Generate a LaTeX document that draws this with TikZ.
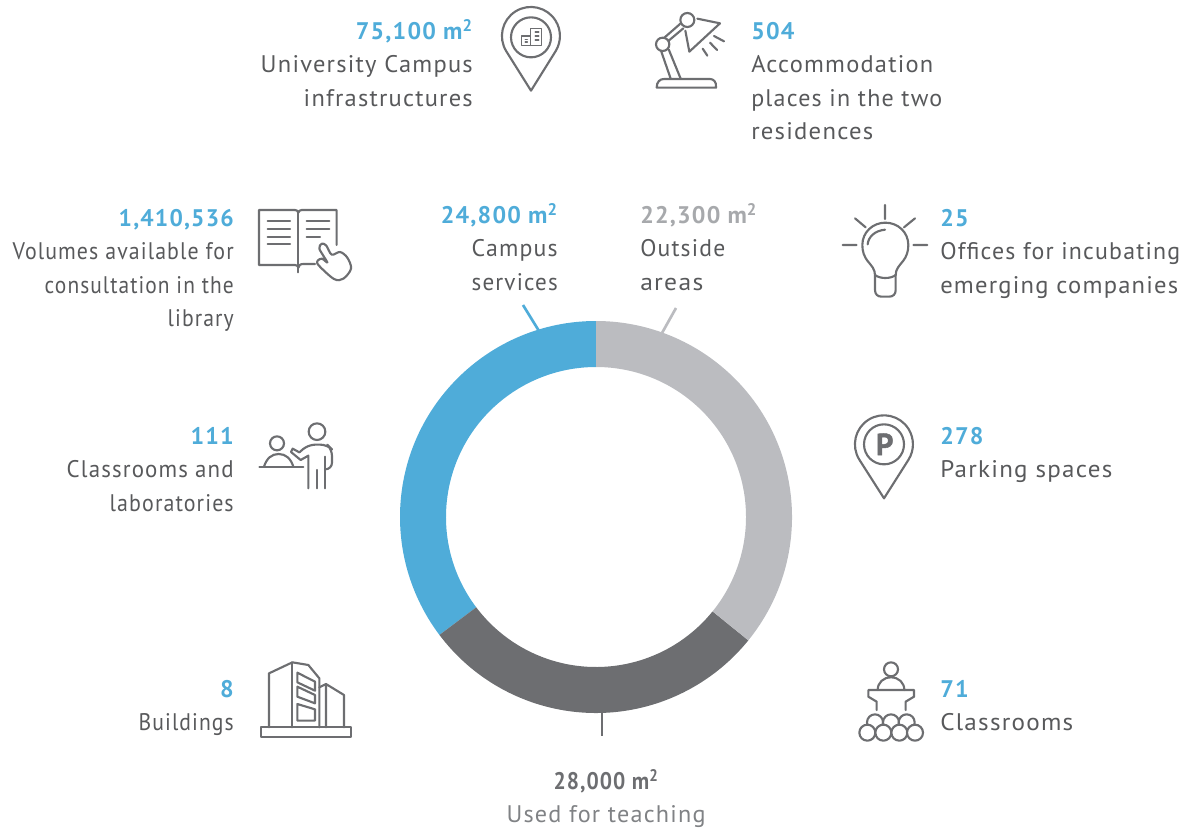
\documentclass[tikz,border=0pt]{standalone}
\usepackage{graphicx}
\usepackage{fontspec}
\setmainfont[LetterSpace=5.0]{PT Sans}
\newfontfamily\pfont[BoldFeatures={FakeBold=1.5}]{PT Sans}
\definecolor{cblue}{HTML}{4FACD9}
\definecolor{cgray}{HTML}{BBBCC0}
\definecolor{cdark}{HTML}{6D6E71}
\definecolor{ctext}{HTML}{58595B}
\definecolor{cnum}{HTML}{A7A9AC}
\definecolor{cuse}{HTML}{808285}
\newcommand{\msq}{m\smash{\textsuperscript{2}}}
% a line of text set to a width given in reference pixels
\newcommand{\lw}[2]{\resizebox{#1\dimexpr 0.75pt\relax}{\height}{#2}}
\tikzset{
  lab/.style={inner sep=0pt,text=ctext,font=\fontsize{18}{25.1}\selectfont},
  labr/.style={lab,align=right,anchor=north east},
  labl/.style={lab,align=left,anchor=north west},
  labc/.style={lab,align=center,anchor=north},
  icon/.style={draw=cdark,line width=1.6pt,line join=round,line cap=round},
  thin icon/.style={icon,line width=1.2pt},
  leader/.style={line width=2pt},
  crop/.style={x=.25pt,y=-.25pt},
}
\newcommand{\nb}[1]{{\bfseries\color{cblue}#1}}
\begin{document}
\begin{tikzpicture}[x=.75pt,y=-.75pt]
\useasboundingbox (0,0) rectangle (1187,831);
% donut
\coordinate (c) at (596,517);
\begin{scope}[shift={(c)}]
\fill[cblue] (90:147pt) arc[start angle=90,end angle=217,radius=147pt] -- (217:112.5pt) arc[start angle=217,end angle=90,radius=112.5pt] -- cycle;
\fill[cdark] (217:147pt) arc[start angle=217,end angle=321,radius=147pt] -- (321:112.5pt) arc[start angle=321,end angle=217,radius=112.5pt] -- cycle;
\fill[cgray] (321:147pt) arc[start angle=321,end angle=450,radius=147pt] -- (450:112.5pt) arc[start angle=450,end angle=321,radius=112.5pt] -- cycle;
\end{scope}
% leaders
\coordinate (la) at (523,305); \coordinate (lb) at (539,331);
\coordinate (lc) at (676,308); \coordinate (ld) at (662,333);
\coordinate (le) at (602,713); \coordinate (lf) at (602,736);
\draw[leader,cblue] (la) -- (lb);
\draw[leader,cgray] (lc) -- (ld);
\draw[leader,cdark] (le) -- (lf);
% labels
\node[labr] (t1) at (473,22) {\nb{75,100 \msq}\\\lw{212}{University Campus}\\\lw{169}{infrastructures}};
\node[labl] (t2) at (751,22) {\nb{504}\\\lw{182}{Accommodation}\\\lw{191}{places in the two}\\\lw{122}{residences}};
\node[labr] (t3) at (234,209) {\nb{\lw{115}{1,410,536}}\\\lw{221}{Volumes available for}\\\lw{189}{consultation in the}\\\lw{66}{library}};
\node[labr] (t4) at (558,206) {\nb{24,800 \msq}\\\lw{86}{Campus}\\\lw{86}{services}};
\node[labl] (t5) at (640,206) {{\bfseries\color{cnum}22,300 \msq}\\\lw{85}{Outside}\\\lw{63}{areas}};
\node[labl] (t6) at (940,209) {\nb{25}\\\lw{240}{Offices for incubating}\\\lw{238}{emerging companies}};
\node[labr] (t7) at (234,427) {\nb{111}\\\lw{167}{Classrooms and}\\\lw{124}{laboratories}};
\node[labl] (t8) at (940,427) {\nb{278}\\\lw{172}{Parking spaces}};
\node[labr] (t9) at (234,680) {\nb{8}\\\lw{95}{Buildings}};
\node[labl] (t10) at (940,680) {\nb{71}\\\lw{133}{Classrooms}};
\node[labc] (t11) at (606,772) {{\bfseries\color{cdark}\lw{105}{28,000 \msq}}\\{\color{cuse}\lw{199}{Used for teaching}}};
% pin building
\begin{scope}[shift={(480,0)},crop]
\draw[icon] (153,272) -- (79,154) arc[start angle=148,end angle=392,radius=87] -- cycle;
\draw[icon] (153,112) circle[radius=60];
\draw[thin icon] (124,108) rectangle (152,136) (152,136) -- (152,86) -- (184,86) -- (184,136) -- (152,136);
\draw[thin icon] (136,118) -- (142,118) (136,126) -- (142,126) (166,96) -- (176,96) (166,108) -- (176,108) (166,120) -- (176,120);
% lamp
\draw[icon] (530,263) -- (708,263) .. controls (710,245) and (700,237) .. (690,237) -- (552,237) .. controls (540,237) and (530,245) .. (530,263);
\draw[icon] (548,133) circle[radius=20];
\draw[icon] (622,60) circle[radius=21];
\draw[icon] (543,152) -- (572,236) (566,148) -- (602,236);
\draw[icon] (553,113) -- (600,72) (566,122) -- (610,85);
\draw[icon] (652,56) -- (720,70) -- (628,155) -- (616,92);
\draw[icon] (668,146) -- (682,167) (690,128) -- (711,150) (702,108) -- (732,124);
\end{scope}
% book
\begin{scope}[shift={(240,190)},crop]
\draw[icon] (165,60) -- (57,60) -- (57,225) -- (165,225) .. controls (170,225) and (175,228) .. (175,233) .. controls (177,226) and (180,222) .. (190,222) -- (225,222);
\draw[icon] (290,165) -- (290,60) -- (185,60) .. controls (180,60) and (176,63) .. (175,68) .. controls (174,63) and (170,60) .. (165,60);
\draw[icon] (175,68) -- (175,247);
\draw[icon] (83,92) -- (150,92) (83,116) -- (150,116) (83,140) -- (150,140) (83,163) -- (150,163);
\draw[icon] (200,92) -- (268,92) (200,116) -- (268,116) (200,140) -- (240,140);
\draw[icon] plot[smooth cycle,tension=.55] coordinates {(262,217) (238,176) (246,161) (259,167) (275,194) (300,186) (322,203) (333,236) (310,266) (282,267) (236,226) (233,212) (246,206)};
\end{scope}
% teacher
\begin{scope}[shift={(240,410)},crop]
\draw[icon] (111,100) circle[radius=21];
\draw[icon] (72,170) .. controls (80,145) and (95,132) .. (116,132) .. controls (137,132) and (152,145) .. (160,170);
\draw[icon] (58,172) -- (190,172);
\draw[icon] (231,65) circle[radius=25];
\draw[icon,rounded corners=5pt] (178,127) -- (205,104) -- (262,104) -- (276,118) -- (276,178) -- (255,178);
\draw[icon] (178,127) -- (158,116) -- (153,126) -- (182,150) -- (205,137) -- (205,235);
\draw[icon] (255,140) -- (255,235) (230,180) -- (230,235);
\end{scope}
% building
\begin{scope}[shift={(240,650)},crop]
\draw[icon] (63,232) rectangle (332,260);
\draw[icon] (87,232) -- (87,70) -- (157,37) -- (205,45) -- (238,85) -- (238,232);
\draw[icon] (157,37) -- (157,232);
\draw[icon] (238,112) -- (258,102) -- (312,135) -- (312,232) (258,102) -- (258,232);
\draw[icon] (172,68) -- (225,95) -- (225,122) -- (172,97) -- cycle;
\draw[icon] (172,110) -- (225,135) -- (225,160) -- (172,140) -- cycle;
\draw[icon] (172,162) -- (225,178) -- (225,212) -- (172,212) -- cycle;
\end{scope}
% bulb
\begin{scope}[shift={(830,195)},crop]
\draw[icon] (165,30) -- (165,72) (38,150) -- (80,150) (250,150) -- (292,150) (75,70) -- (107,97) (255,70) -- (222,97);
\draw[icon] (135,240) .. controls (135,222) and (124,212) .. (112,197) .. controls (103,185) and (97,170) .. (97,150) .. controls (97,112) and (128,83) .. (166,83) .. controls (204,83) and (235,112) .. (235,150) .. controls (235,170) and (229,185) .. (220,197) .. controls (208,212) and (197,222) .. (197,240);
\draw[icon] (135,240) .. controls (150,252) and (182,252) .. (197,240);
\draw[icon] (135,240) -- (135,285) .. controls (135,298) and (143,305) .. (155,305) -- (177,305) .. controls (189,305) and (197,298) .. (197,285) -- (197,240);
\draw[icon] (113,148) .. controls (115,125) and (135,107) .. (165,104);
\end{scope}
% pin P
\begin{scope}[shift={(840,410)},crop]
\draw[icon] (132,265) -- (58,149) arc[start angle=148,end angle=392,radius=87] -- cycle;
\draw[icon] (132,103) circle[radius=60];
\node[inner sep=0pt,text=cdark] (pp) at (134,103) {\fontsize{23}{23}\pfont\bfseries P};
\end{scope}
% podium
\begin{scope}[shift={(840,650)},crop]
\draw[icon] (153,58) circle[radius=21];
\draw[icon] (113,120) .. controls (113,98) and (130,82) .. (153,82) .. controls (176,82) and (193,98) .. (193,120);
\draw[icon] (110,180) -- (110,155) -- (85,140) -- (85,120) -- (222,120) -- (222,140) -- (197,155) -- (197,180);
\foreach \n/\xx in {a/105,b/153,c/200} \draw[icon,fill=white] (\xx,217) circle[radius=24];
\foreach \n/\xx in {d/82,e/130,f/178,g/225} \draw[icon,fill=white] (\xx,248) circle[radius=24];
\end{scope}
\end{tikzpicture}
\end{document}
